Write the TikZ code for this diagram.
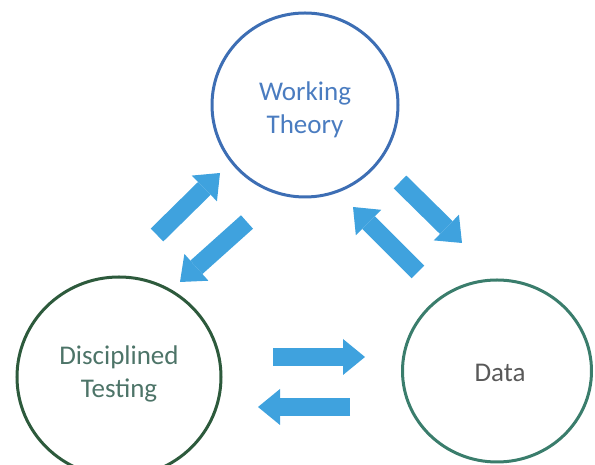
\documentclass[tikz,border=0pt]{standalone}
\usepackage{fontspec}
\setmainfont{Carlito}
\usetikzlibrary{arrows.meta,shapes.geometric,calc}
\definecolor{wtline}{HTML}{3D6EB4}
\definecolor{wttext}{HTML}{4A7CC0}
\definecolor{dtline}{HTML}{2D5A3C}
\definecolor{dttext}{HTML}{4D7468}
\definecolor{daline}{HTML}{3A7D6C}
\definecolor{datext}{HTML}{595959}
\definecolor{arrowblue}{HTML}{3FA2DE}
\tikzset{
  bubble/.style={ellipse, draw, line width=3pt, inner sep=0pt},
  lbl/.style={align=center, font=\fontsize{27}{33}\selectfont, inner sep=0pt},
  blockarrow/.style={draw=arrowblue, line width=18pt,
    -{Triangle[width=36pt,length=22pt,line width=0pt]}}
}
\begin{document}
\begin{tikzpicture}[x=1pt,y=1pt]
\useasboundingbox (0,0) rectangle (595,465);
\begin{scope}
\clip (0,0) rectangle (595,465);
\node[bubble, draw=wtline, minimum width=186pt, minimum height=184pt] (wt) at (305,360) {};
\node[bubble, draw=dtline, minimum width=204pt, minimum height=200pt] (dt) at (119,88) {};
\node[bubble, draw=daline, minimum width=189pt, minimum height=182pt] (da) at (497,94) {};
\end{scope}
\node[lbl, text=wttext] (wtl) at ($(wt)+(0,-5)$) {Working\\Theory};
\node[lbl, text=dttext] (dtl) at ($(dt)+(0,3)$) {Disciplined\\Testing};
\node[lbl, text=datext] (dal) at ($(da)+(3,-2)$) {Data};
% arrow end points
\coordinate (a1s) at (157,230); \coordinate (a1e) at (220,292);
\coordinate (a2s) at (247,243); \coordinate (a2e) at (180,183);
\coordinate (a3s) at (418,193); \coordinate (a3e) at (353,258);
\coordinate (a4s) at (400,283); \coordinate (a4e) at (462,222);
\coordinate (a5s) at (273,108); \coordinate (a5e) at (365,108);
\coordinate (a6s) at (350,58);  \coordinate (a6e) at (258,58);
\draw[blockarrow] (a1s) -- (a1e);
\draw[blockarrow] (a2s) -- (a2e);
\draw[blockarrow] (a3s) -- (a3e);
\draw[blockarrow] (a4s) -- (a4e);
\draw[blockarrow] (a5s) -- (a5e);
\draw[blockarrow] (a6s) -- (a6e);
\end{tikzpicture}
\end{document}
